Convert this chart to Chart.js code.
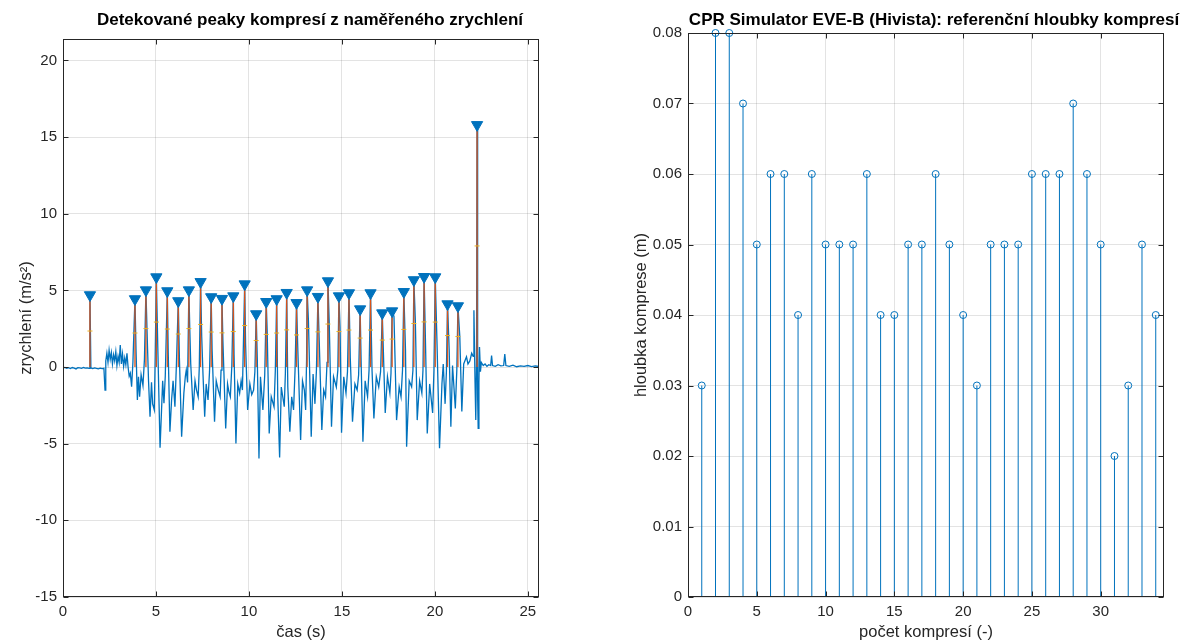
<!DOCTYPE html>
<html>
<head>
<meta charset="utf-8">
<title>CPR komprese</title>
<script src="https://cdn.jsdelivr.net/npm/chart.js@4.4.0/dist/chart.umd.min.js"></script>
<style>
  html, body { margin: 0; padding: 0; background: #fff; }
  #wrap { position: relative; width: 1183px; height: 641px; overflow: hidden; }
  canvas { position: absolute; top: 0; }
  #accChart { left: 0; }
  #depthChart { left: 591px; }
</style>
</head>
<body>
<div id="wrap">
  <canvas id="accChart" width="591" height="641"></canvas>
  <canvas id="depthChart" width="592" height="641"></canvas>
</div>
<script>
const accTime = [
    0.00, 0.10, 0.20, 0.30, 0.40, 0.50, 0.60, 0.70, 0.80, 0.90,
    1.00, 1.10, 1.20, 1.30, 1.40, 1.45, 1.50, 1.60, 1.70, 1.80,
    1.90, 2.00, 2.10, 2.20, 2.26, 2.30, 2.36, 2.42, 2.48, 2.54,
    2.60, 2.66, 2.72, 2.78, 2.84, 2.90, 2.96, 3.02, 3.08, 3.14,
    3.20, 3.26, 3.32, 3.38, 3.44, 3.50, 3.56, 3.62, 3.69, 3.76,
    3.87, 3.93, 4.00, 4.06, 4.12, 4.20, 4.30, 4.38,
    4.46, 4.54, 4.60, 4.68, 4.76, 4.82, 4.91, 4.96,
    5.02, 5.10, 5.22, 5.30, 5.36, 5.43, 5.50,
    5.61, 5.66, 5.75, 5.84, 5.92, 6.02, 6.10,
    6.20, 6.26, 6.38, 6.50, 6.58, 6.63, 6.70,
    6.77, 6.82, 6.87, 7.00, 7.10, 7.18, 7.27, 7.33,
    7.40, 7.46, 7.53, 7.62, 7.70, 7.80, 7.88,
    7.97, 8.02, 8.15, 8.24, 8.35, 8.45, 8.50,
    8.55, 8.60, 8.75, 8.85, 8.92, 9.00, 9.08,
    9.16, 9.20, 9.30, 9.40, 9.50, 9.58, 9.65,
    9.77, 9.82, 9.93, 10.05, 10.15, 10.25, 10.32,
    10.39, 10.45, 10.54, 10.62, 10.75, 10.85,
    10.93, 10.98, 11.09, 11.20, 11.35, 11.42,
    11.49, 11.55, 11.65, 11.74, 11.90, 11.96,
    12.03, 12.09, 12.20, 12.30, 12.40, 12.48,
    12.56, 12.63, 12.78, 12.88, 12.98, 13.05, 13.10,
    13.13, 13.20, 13.35, 13.45, 13.55, 13.63,
    13.71, 13.78, 13.92, 14.02, 14.12, 14.20,
    14.25, 14.32, 14.44, 14.55, 14.70, 14.78,
    14.84, 14.90, 14.98, 15.10, 15.22, 15.30,
    15.38, 15.45, 15.57, 15.70, 15.82, 15.90,
    15.98, 16.04, 16.13, 16.25, 16.38, 16.46,
    16.54, 16.62, 16.72, 16.85, 16.98, 17.08,
    17.17, 17.26, 17.33, 17.45, 17.58, 17.64,
    17.70, 17.80, 17.94, 18.08, 18.18, 18.26,
    18.33, 18.42, 18.48, 18.62, 18.75, 18.82,
    18.87, 18.95, 19.05, 19.18, 19.30, 19.36,
    19.42, 19.50, 19.59, 19.72, 19.88, 19.95,
    20.02, 20.12, 20.25, 20.38, 20.45, 20.55, 20.62,
    20.68, 20.77, 20.86, 20.95, 21.10, 21.18,
    21.24, 21.34, 21.45, 21.55, 21.70, 21.78, 21.88, 21.98, 22.06, 22.10, 22.16, 22.20, 22.24,
    22.27, 22.30, 22.33, 22.37, 22.40, 22.45, 22.50, 22.60, 22.70, 22.80, 22.90, 23.00, 23.05, 23.10,
    23.25, 23.40, 23.55, 23.70, 23.76, 23.82, 24.00, 24.20, 24.40, 24.60, 24.80, 25.00, 25.20, 25.40, 25.60
];
const accValue = [
    -0.05, -0.02, -0.08, -0.04, -0.10, -0.03, -0.07, -0.12, -0.04, -0.06,
    -0.09, -0.03, -0.07, -0.05, -0.08, 4.70, -0.06, -0.10, -0.05, -0.09,
    -0.12, -0.07, -0.10, -0.08, -1.50, 0.40, 0.90, 0.30, 1.10, 0.50,
    0.95, 0.20, 0.80, 0.40, 1.00, 0.10, 0.70, 0.30, 1.43, 0.20,
    0.85, 0.05, 0.60, 0.15, 0.90, 0.00, -0.60, -0.40, -1.28, 0.30,
    4.44, 1.00, -2.15, -0.63, -1.94, -0.50, -1.20, 0.50,
    5.02, 1.50, -0.90, -3.24, -1.00, -2.40, -2.80, 0.80,
    5.87, 1.20, -5.27, -2.80, -0.90, -2.36, -0.60,
    4.96, 0.90, -4.22, -2.15, -0.90, -2.59, 0.20,
    4.31, 0.60, -4.55, -1.70, -0.60, -0.20, -1.00,
    5.02, 2.40, 0.20, -2.80, -0.90, -1.50, -1.94, 0.00,
    5.56, 2.00, -0.50, -3.24, -1.10, -2.15, -0.30,
    4.57, 1.10, -3.57, -0.90, -1.50, -1.94, -0.20,
    4.46, 1.70, -4.00, -1.10, -1.60, -1.94, 0.10,
    4.63, 0.80, -4.98, -1.10, -1.70, -0.90, -1.50,
    5.41, 1.50, -2.80, -1.10, -1.80, -1.50, -0.30,
    3.46, 0.50, -5.96, -0.63, -2.80, -0.50,
    4.26, 2.40, -4.33, -1.94, -2.59, -0.20,
    4.44, -1.94, -5.90, -1.30, -2.59, -0.40,
    4.85, -1.30, -4.22, -1.94, -2.80, -0.20,
    4.19, 1.10, -4.76, -0.90, -1.50, -2.80, 0.50,
    5.02, 3.00, -4.55, -0.45, -2.40, -0.20,
    4.59, 1.70, -4.10, -1.50, -1.94, 0.30,
    5.61, 2.80, -3.90, -0.63, -1.30, -0.20,
    4.63, 2.60, -4.28, -0.63, -1.70, -0.30,
    4.83, 0.60, -3.57, -1.10, -1.50, -0.50,
    3.78, 0.00, -4.87, -0.90, -1.94, -0.20,
    4.83, -0.20, -3.35, -0.63, -1.30, -0.30,
    3.52, -0.20, -3.00, -0.63, -1.70, -0.40,
    3.65, 3.30, -3.46, -1.30, -1.94, -0.20,
    4.91, 1.10, -5.20, -0.90, -1.30, -0.20,
    5.68, 3.00, -3.46, -0.90, -1.70, -0.20,
    5.89, 1.30, -4.33, -1.10, -3.00, -0.20,
    5.87, 1.30, -5.30, -1.10, 0.20, -2.40, -0.30,
    4.11, 1.10, -3.90, 0.10, -2.70, -0.20,
    3.98, 2.00, -2.90, 0.20, 0.67, 0.20, 0.40, 0.90, 0.70, 3.70, -1.00, -3.46, 0.50,
    15.80, -2.00, -4.00, -1.00, 1.30, -0.30, 0.30, 0.10, 0.20, 0.05, 0.15, 0.10, 0.75, 0.10,
    0.05, 0.15, 0.08, 0.10, 0.85, 0.10, 0.05, 0.12, 0.02, 0.08, 0.04, 0.10, 0.03, 0.07, 0.05
];

// detected compression peaks
const peakTime = [1.45, 3.87, 4.46, 5.02, 5.61, 6.20, 6.77, 7.40, 7.97, 8.55, 9.16,
    9.77, 10.39, 10.93, 11.49, 12.03, 12.56, 13.13, 13.71, 14.25, 14.84, 15.38,
    15.98, 16.54, 17.17, 17.70, 18.33, 18.87, 19.42, 20.02, 20.68, 21.24, 22.27];
const peakValue = [4.70, 4.44, 5.02, 5.87, 4.96, 4.31, 5.02, 5.56, 4.57, 4.46, 4.63,
    5.41, 3.46, 4.26, 4.44, 4.85, 4.19, 5.02, 4.59, 5.61, 4.63, 4.83,
    3.78, 4.83, 3.52, 3.65, 4.91, 5.68, 5.89, 5.87, 4.11, 3.98, 15.80];

// reference depths from the simulator
const compressionNo = [1, 2, 3, 4, 5, 6, 7, 8, 9, 10, 11, 12, 13, 14, 15, 16, 17,
    18, 19, 20, 21, 22, 23, 24, 25, 26, 27, 28, 29, 30, 31, 32, 33, 34];
const depth = [0.03, 0.08, 0.08, 0.07, 0.05, 0.06, 0.06, 0.04, 0.06, 0.05,
    0.05, 0.05, 0.06, 0.04, 0.04, 0.05, 0.05, 0.06, 0.05, 0.04,
    0.03, 0.05, 0.05, 0.05, 0.06, 0.06, 0.06, 0.07, 0.06, 0.05,
    0.02, 0.03, 0.05, 0.04];

const FONT = '"Liberation Sans", Arial, Helvetica, sans-serif';
const BLUE = '#0072BD';
const ORANGE = '#D95319';
const YELLOW = '#EDB120';
const AXIS = '#262626';
const GRID = 'rgba(38,38,38,0.13)';

// axes box, inner tick marks and the bold title (MATLAB look)
const panelFrame = {
    id: 'panelFrame',
    afterDatasetsDraw(chart) {
        const { ctx, chartArea: a, scales } = chart;
        const tickLen = 5;
        const L = Math.round(a.left) + 0.5, R = Math.round(a.right) - 0.5;
        const T = Math.round(a.top) + 0.5, B = Math.round(a.bottom) - 0.5;
        ctx.save();
        ctx.strokeStyle = AXIS;
        ctx.lineWidth = 1;
        ctx.beginPath();
        scales.x.ticks.forEach(t => {
            const px = Math.round(scales.x.getPixelForValue(t.value)) + 0.5;
            ctx.moveTo(px, B); ctx.lineTo(px, B - tickLen);
            ctx.moveTo(px, T); ctx.lineTo(px, T + tickLen);
        });
        scales.y.ticks.forEach(t => {
            const py = Math.round(scales.y.getPixelForValue(t.value)) + 0.5;
            ctx.moveTo(L, py); ctx.lineTo(L + tickLen, py);
            ctx.moveTo(R, py); ctx.lineTo(R - tickLen, py);
        });
        ctx.stroke();
        ctx.strokeRect(L, T, R - L, B - T);
        ctx.restore();
    },
    afterDraw(chart, args, opts) {
        const ctx = chart.ctx;
        ctx.save();
        ctx.font = 'bold 17px ' + FONT;
        ctx.fillStyle = '#000';
        ctx.textAlign = 'center';
        ctx.textBaseline = 'middle';
        ctx.fillText(opts.text, opts.x, opts.y);
        ctx.restore();
    }
};

function axisOptions(min, max, step, titleText, titlePad, size) {
    return {
        type: 'linear',
        min: min,
        max: max,
        grid: { color: GRID, lineWidth: 1, drawTicks: false },
        border: { display: false },
        ticks: {
            stepSize: step,
            includeBounds: false,
            padding: 6,
            color: AXIS,
            font: { family: FONT, size: 15 }
        },
        title: {
            display: true,
            text: titleText,
            color: AXIS,
            padding: titlePad,
            font: { family: FONT, size: 16.5, lineHeight: 1 }
        },
        afterFit: size
    };
}

// left panel: acceleration with detected peaks
const accPoints = accTime.map((t, i) => ({ x: t, y: accValue[i] }));
const peakPoints = peakTime.map((t, i) => ({ x: t, y: peakValue[i] }));
let prominenceLines = [];
peakTime.forEach((t, i) => {
    prominenceLines.push({ x: t, y: 0 }, { x: t, y: peakValue[i] }, { x: t, y: null });
});
const halfWidthMarks = peakTime.map((t, i) => ({ x: t, y: peakValue[i] / 2 }));

new Chart(document.getElementById('accChart'), {
    type: 'scatter',
    data: {
        datasets: [
            {
                data: peakPoints,
                pointStyle: 'triangle',
                rotation: 180,
                pointRadius: 6.5,
                backgroundColor: BLUE,
                borderColor: BLUE,
                borderWidth: 1,
                order: 0
            },
            {
                data: halfWidthMarks,
                pointStyle: 'line',
                pointRadius: 2.5,
                borderColor: YELLOW,
                borderWidth: 1,
                order: 1
            },
            {
                data: prominenceLines,
                showLine: true,
                spanGaps: false,
                pointRadius: 0,
                borderColor: ORANGE,
                borderWidth: 1.3,
                order: 2
            },
            {
                data: accPoints,
                showLine: true,
                pointRadius: 0,
                borderColor: BLUE,
                borderWidth: 1.3,
                tension: 0,
                order: 3
            }
        ]
    },
    options: {
        responsive: false,
        animation: false,
        layout: { padding: { top: 39, right: 52, bottom: 0, left: 0 } },
        scales: {
            x: axisOptions(0, 25.6, 5, 'čas (s)', { top: 0, bottom: 0 }, s => { s.height = 44; }),
            y: axisOptions(-15, 21.4, 5, 'zrychlení (m/s²)', { top: 18, bottom: 0 }, s => { s.width = 63; })
        },
        plugins: {
            legend: { display: false },
            tooltip: { enabled: false },
            panelFrame: { text: 'Detekované peaky kompresí z naměřeného zrychlení', x: 310, y: 20 }
        }
    },
    plugins: [panelFrame]
});

// right panel: stem plot of reference depths
const depthPoints = compressionNo.map((n, i) => ({ x: n, y: depth[i] }));
let stemLines = [];
compressionNo.forEach((n, i) => {
    stemLines.push({ x: n, y: 0 }, { x: n, y: depth[i] }, { x: n, y: null });
});

new Chart(document.getElementById('depthChart'), {
    type: 'scatter',
    data: {
        datasets: [
            {
                data: depthPoints,
                pointStyle: 'circle',
                pointRadius: 3.5,
                backgroundColor: 'rgba(0,0,0,0)',
                borderColor: BLUE,
                borderWidth: 1,
                clip: false,
                order: 0
            },
            {
                data: stemLines,
                showLine: true,
                spanGaps: false,
                pointRadius: 0,
                borderColor: BLUE,
                borderWidth: 1,
                order: 1
            }
        ]
    },
    options: {
        responsive: false,
        animation: false,
        layout: { padding: { top: 33, right: 19, bottom: 0, left: 0 } },
        scales: {
            x: axisOptions(0, 34.6, 5, 'počet kompresí (-)', { top: 0, bottom: 0 }, s => { s.height = 44; }),
            y: axisOptions(0, 0.08, 0.01, 'hloubka komprese (m)', { top: 42, bottom: 0 }, s => { s.width = 97; })
        },
        plugins: {
            legend: { display: false },
            tooltip: { enabled: false },
            panelFrame: { text: 'CPR Simulator EVE-B (Hivista): referenční hloubky kompresí', x: 343, y: 20 }
        }
    },
    plugins: [panelFrame]
});
</script>
</body>
</html>
